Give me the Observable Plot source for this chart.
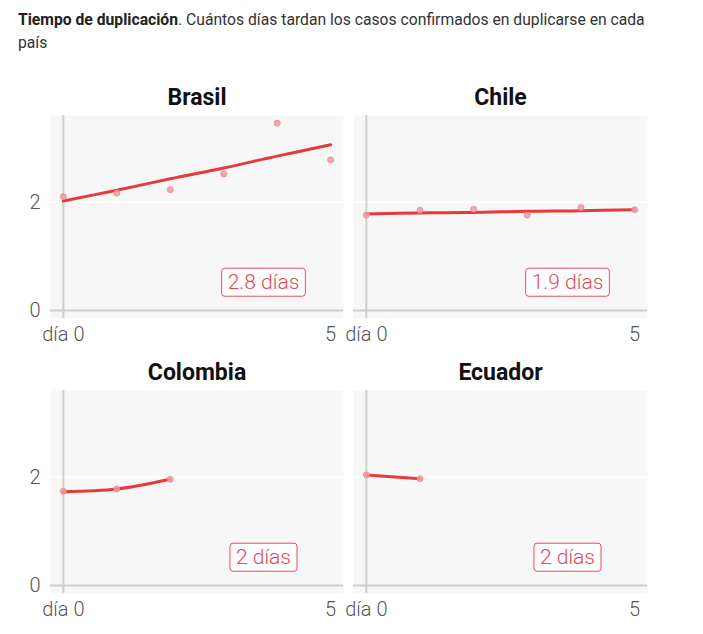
<!DOCTYPE html>
<html>
<head>
<meta charset="utf-8">
<script src="https://cdn.jsdelivr.net/npm/d3@7"></script>
<script src="https://cdn.jsdelivr.net/npm/@observablehq/plot@0.6"></script>
<style>
  html, body { margin: 0; padding: 0; background: #fff; }
  #wrap { position: relative; width: 703px; height: 634px; font-family: Roboto, "Noto Sans", sans-serif; }
  #title { position: absolute; left: 18px; top: 8px; width: 680px; font-size: 15.7px; line-height: 23px; color: #333; }
  #title b { color: #222; }
  .panel { position: absolute; }
</style>
</head>
<body>
<div id="wrap">
  <div id="title"><b>Tiempo de duplicación</b>. Cuántos días tardan los casos confirmados en duplicarse en cada<br>país</div>
  <div class="panel" id="p0" style="left:0px;top:75px"></div>
  <div class="panel" id="p1" style="left:345px;top:75px"></div>
  <div class="panel" id="p2" style="left:0px;top:350px"></div>
  <div class="panel" id="p3" style="left:345px;top:350px"></div>
</div>
<script>
const countries = ["Brasil", "Chile", "Colombia", "Ecuador"];
const days = [0, 1, 2, 3, 4, 5];
const brasilPoints = [2.10, 2.17, 2.23, 2.52, 3.46, 2.78];
const brasilFit = [2.02, 2.22, 2.43, 2.63, 2.85, 3.06];
const chilePoints = [1.76, 1.85, 1.87, 1.76, 1.90, 1.86];
const chileFit = [1.78, 1.80, 1.81, 1.83, 1.84, 1.86];
const colombiaPoints = [1.74, 1.78, 1.96];
const colombiaFit = [1.73, 1.78, 1.96];
const ecuadorPoints = [2.04, 1.97];
const ecuadorFit = [2.04, 1.97];
const badges = ["2.8 días", "1.9 días", "2 días", "2 días"];
const xTicks = [0, 5];
const xTickLabels = ["día 0", "5"];
const yTicks = [0, 2];

const pointsBy = [brasilPoints, chilePoints, colombiaPoints, ecuadorPoints];
const fitBy = [brasilFit, chileFit, colombiaFit, ecuadorFit];

const RED = "#e8393c";
const FONT = "Roboto, 'Noto Sans', sans-serif";

function toRows(values) {
  return values.map((v, j) => ({day: days[j], value: v}));
}

function makePanel(i) {
  const col = i % 2;
  const pts = toRows(pointsBy[i]);
  const fit = toRows(fitBy[i]);
  const marks = [
    Plot.frame({fill: "#f7f7f7", stroke: null}),
    Plot.ruleY(yTicks.filter(t => t !== 0), {stroke: "#ffffff", strokeWidth: 1.5}),
    Plot.ruleY([0], {stroke: "#cfcfcf", strokeWidth: 2}),
    Plot.ruleX([0], {stroke: "#cfcfcf", strokeWidth: 2}),
    Plot.line(fit, {x: "day", y: "value", stroke: RED, strokeWidth: 3, curve: "catmull-rom"}),
    Plot.dot(pts, {x: "day", y: "value", r: 3, fill: "#f29aa2", fillOpacity: 0.85, stroke: "#ea8790", strokeWidth: 0.8}),
    Plot.axisX(xTicks, {tickSize: 0, tickPadding: 8, tickFormat: d => xTickLabels[xTicks.indexOf(d)], fontSize: 20, fontWeight: 300, fill: "#555", label: null}),
    Plot.text([countries[i]], {frameAnchor: "top", dy: -18, lineAnchor: "middle", fontSize: 23, fontWeight: "bold", fill: "#111"}),
    Plot.text([badges[i]], {frameAnchor: "bottom-right", dx: -80, dy: -36, textAnchor: "middle", lineAnchor: "middle", fontSize: 21, fontWeight: 300, fill: "#e24b55"})
  ];
  if (col === 0) {
    marks.push(Plot.axisY(yTicks, {tickSize: 0, tickPadding: 10, tickFormat: d => String(d), fontSize: 20, fontWeight: 300, fill: "#555", label: null}));
  }
  const chart = Plot.plot({
    width: col === 0 ? 345 : 305,
    height: 273,
    marginLeft: col === 0 ? 50 : 8,
    marginRight: col === 0 ? 2 : 3,
    marginTop: 40,
    marginBottom: 30,
    style: {fontFamily: FONT, fontSize: "17px", color: "#555", background: "transparent", overflow: "visible"},
    x: {domain: [-0.24, 5.24], axis: null},
    y: {domain: [-0.15, 3.6], axis: null},
    marks
  });
  document.getElementById("p" + i).appendChild(chart);
  // draw a rounded box behind each badge text
  const svg = chart.tagName.toLowerCase() === "svg" ? chart : chart.querySelector("svg");
  const ns = "http://www.w3.org/2000/svg";
  Array.from(svg.querySelectorAll("text"))
    .filter(t => t.textContent === badges[i])
    .forEach(t => {
      const bb = t.getBBox();
      const rect = document.createElementNS(ns, "rect");
      rect.setAttribute("x", bb.x - 6);
      rect.setAttribute("y", bb.y - 2);
      rect.setAttribute("width", bb.width + 12);
      rect.setAttribute("height", bb.height + 4);
      rect.setAttribute("rx", 3);
      rect.setAttribute("fill", "#ffffff");
      rect.setAttribute("stroke", "#e0525c");
      rect.setAttribute("stroke-width", 1);
      const tr = t.getAttribute("transform");
      if (tr) rect.setAttribute("transform", tr);
      t.parentNode.insertBefore(rect, t);
    });
}

[0, 1, 2, 3].forEach(makePanel);
</script>
</body>
</html>
